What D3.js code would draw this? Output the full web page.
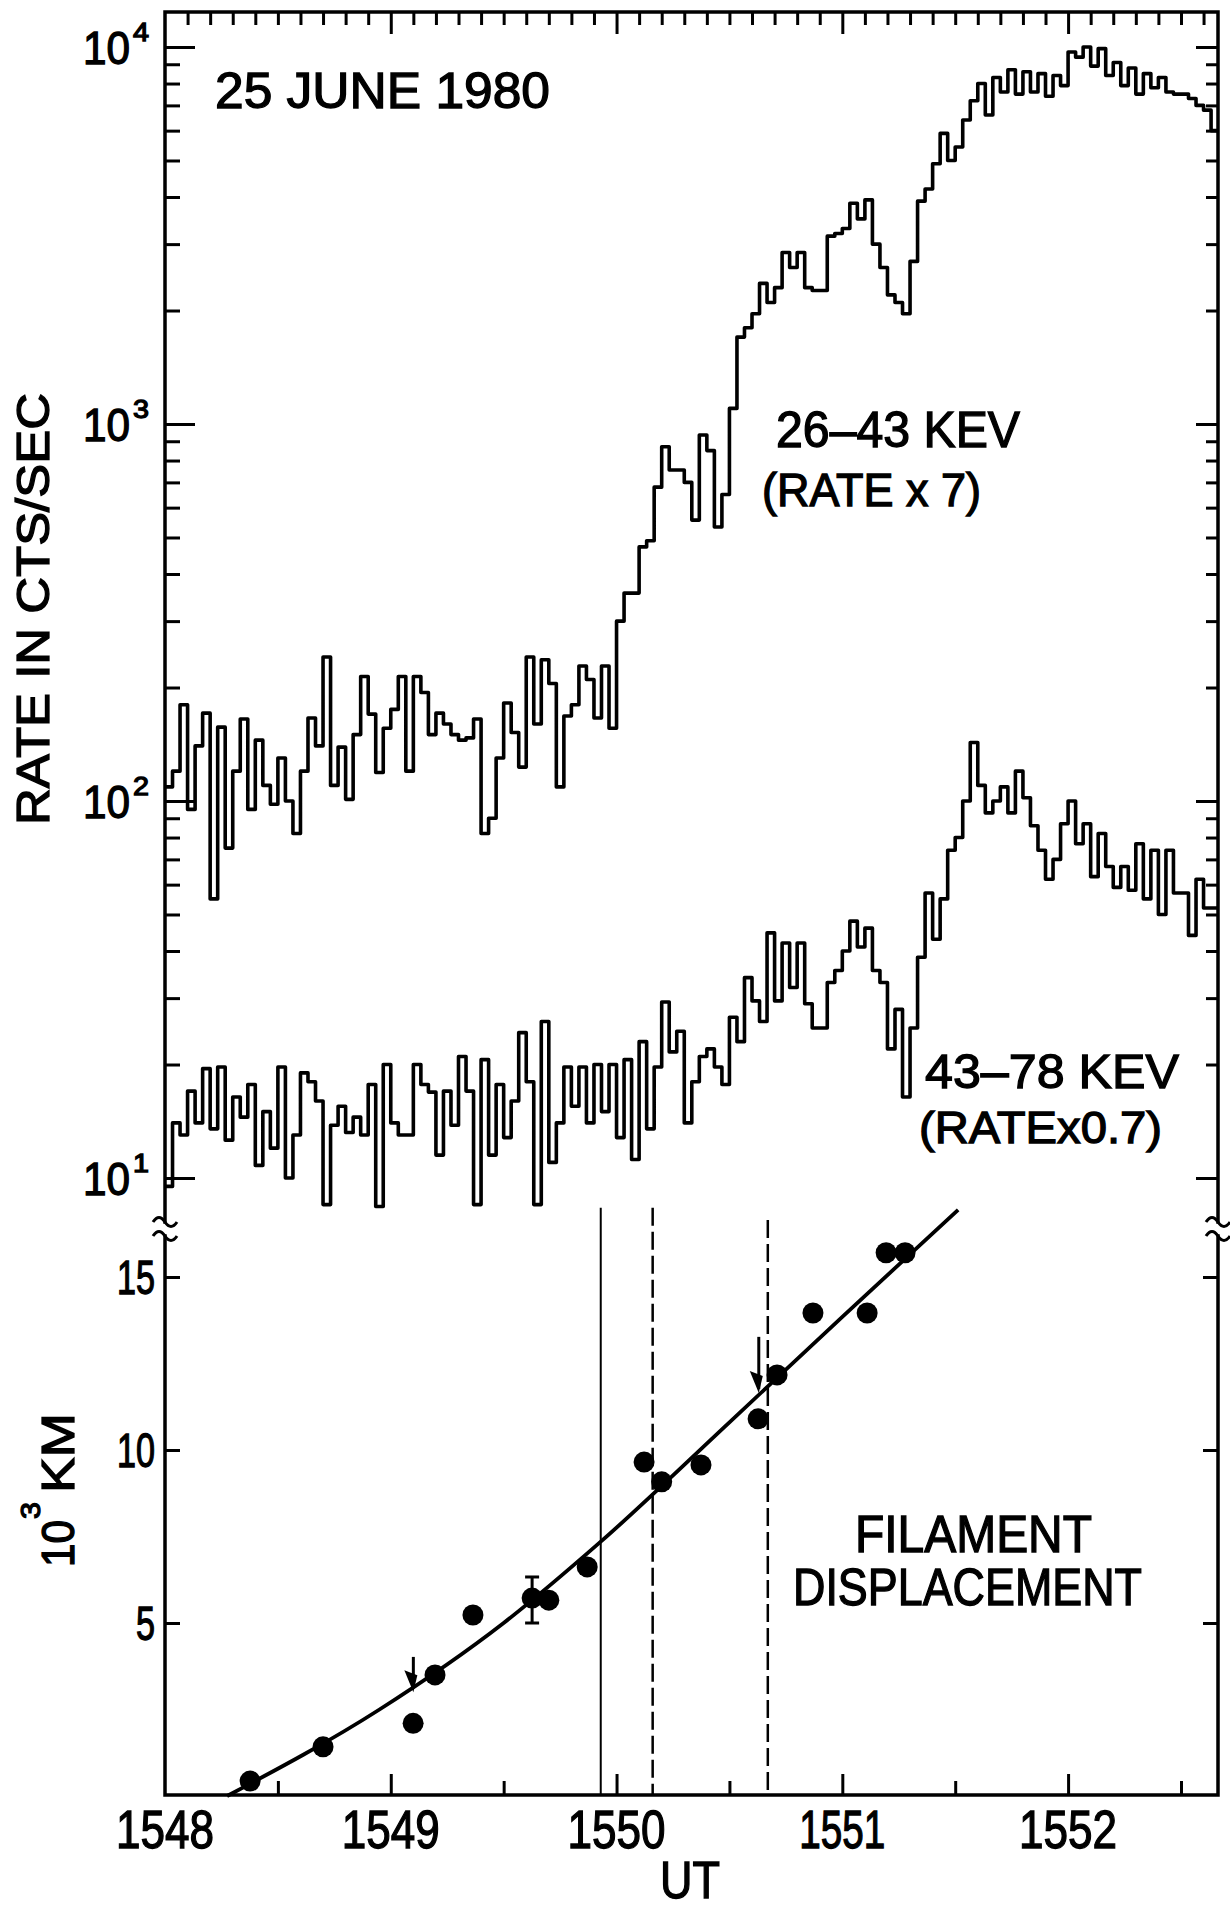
<!DOCTYPE html>
<html>
<head>
<meta charset="utf-8">
<script src="https://cdn.jsdelivr.net/npm/d3@7"></script>
<style>
  html, body { margin: 0; padding: 0; background: #fff; }
  svg { display: block; }
  text { font-family: "Liberation Sans", Arial, sans-serif; fill: #000; }
</style>
</head>
<body>
<svg id="chart" width="1230" height="1908"></svg>
<script>
// ---- data ----
// count-rate bins: start at 15:48 UT, 2 s wide
const binStart = 1548;
const binWidth = 1 / 30;

// 26-43 keV, rate x 7
const rate26to43 = [
  109, 120, 180, 95, 140, 171, 55, 157, 75, 120,
  165, 95, 145, 110, 98, 130, 100, 82, 120, 166,
  140, 241, 110, 139, 101, 150, 214, 170, 119, 156,
  175, 214, 120, 214, 194, 150, 171, 160, 150, 145,
  147, 165, 82, 90, 130, 182, 152, 123, 241, 160,
  237, 205, 109, 168, 180, 228, 210, 166, 228, 156,
  300, 356, 356, 472, 490, 680, 870, 755, 755, 700,
  556, 935, 850, 533, 650, 1100, 1700, 1800, 1960, 2360,
  2100, 2300, 2850, 2600, 2850, 2300, 2260, 2260, 3150, 3200,
  3300, 3850, 3500, 3930, 3000, 2600, 2200, 2100, 1960, 2700,
  3900, 4200, 4900, 5900, 5000, 5430, 6400, 7200, 8000, 6600,
  8300, 7600, 8700, 7500, 8600, 7600, 8500, 7400, 8400, 7900,
  9700, 9400, 10000, 8900, 9900, 8400, 9100, 7900, 8800, 7500,
  8500, 7800, 8300, 7600, 7500, 7500, 7300, 7000, 6800, 6000
];

// 43-78 keV, rate x 0.7
const rate43to78 = [
  9.5, 14, 13, 17, 14, 19.5, 13.5, 19.7, 12.6, 16.4,
  14.5, 17.7, 10.8, 15, 12, 19.7, 10, 13, 19, 18,
  16, 8.5, 13.8, 15.5, 13.2, 14.5, 13, 17.7, 8.4, 20,
  14, 13, 13, 20, 17.7, 16.9, 11.5, 17, 13.8, 21,
  17, 8.5, 20.6, 11.5, 17.7, 12.8, 16, 24.3, 18, 8.5,
  26, 11, 14, 19.7, 15.5, 19.7, 14, 20, 15, 20,
  12.8, 20.6, 11.2, 23, 13.5, 19.7, 29.3, 21.6, 24.5, 14,
  18, 21, 22, 19.7, 17.7, 26.7, 23, 34, 29.5, 26,
  44.7, 29.5, 42, 32, 42, 29, 25, 25, 33, 35.5,
  40, 48, 41, 46, 35.5, 33, 22, 28, 16.4, 25,
  38.5, 57, 43, 55, 74, 80, 100, 143, 110, 93,
  100, 109, 93, 120, 102, 86, 74, 62, 70, 87,
  100, 77, 87, 63, 82, 67, 59, 67, 58, 77,
  55, 74, 50, 74, 57, 57, 44, 62, 52, 52
];

// filament displacement (10^3 km)
const dispTime = [1548.377, 1548.70, 1549.099, 1549.196, 1549.364, 1549.626, 1549.70, 1549.87,
  1550.122, 1550.20, 1550.374, 1550.627, 1550.711, 1550.870, 1551.110, 1551.194, 1551.278];
const dispKm = [0.43, 1.42, 2.1, 3.5, 5.23, 5.72, 5.66, 6.62,
  9.65, 9.08, 9.57, 10.9, 12.17, 13.96, 13.96, 15.7, 15.7];

// smooth fit through the points
const fitTime = [1548.275, 1548.95, 1549.50, 1549.93, 1550.50, 1551.00, 1551.513];
const fitKm = [0, 2.5, 5.0, 7.35, 10.8, 13.85, 16.94];

// error bar
const errTime = [1549.626];
const errLo = [5.0];
const errHi = [6.33];

// arrows
const arrowTime = [1549.10, 1550.63];
const arrowFrom = [4.02, 13.27];
const arrowTo = [3.0, 11.65];

// vertical time markers
const solidTimes = [1549.93];
const solidTop = [17.0];
const dashedTimes = [1550.16, 1550.67];
const dashedTop = [17.0, 16.65];

// axis ticks / labels
const xLabelValues = [1548, 1549, 1550, 1551, 1552];
const xLabels = ['1548', '1549', '1550', '1551', '1552'];
const rateDecades = [10, 100, 1000, 10000];
const rateExponents = ['1', '2', '3', '4'];
const kmTicks = [5, 10, 15];
const kmLabels = ['5', '10', '15'];

// ---- layout ----
const svg = d3.select('#chart');
const frame = { left: 165, right: 1218, top: 12, bottom: 1795, breakTop: 1222, breakBottom: 1236 };

const x = d3.scaleLinear().domain([1548, 1552.664]).range([frame.left, frame.right]);
const yRate = d3.scaleLog().domain([10, 10000]).range([1178, 47]);
const yKm = d3.scaleLinear().domain([0, 15]).range([1796, 1277]);

const INK = 1.3; // text outline, thickens the glyphs like the plotter lettering

svg.append('rect').attr('width', 1230).attr('height', 1908).attr('fill', '#fff');

// ---- ticks ----
function tickAxis(axis, tx, ty, size) {
  svg.append('g')
    .attr('transform', `translate(${tx},${ty})`)
    .call(axis.tickSize(size).tickSizeOuter(0).tickFormat(''))
    .call(g => g.select('.domain').remove())
    .selectAll('line')
    .attr('stroke', '#000')
    .attr('stroke-width', 3);
}

const rateMinors = yRate.ticks().filter(v => !rateDecades.includes(v));
tickAxis(d3.axisRight(yRate).tickValues(rateDecades), frame.left, 0, 30);
tickAxis(d3.axisRight(yRate).tickValues(rateMinors), frame.left, 0, 15);
tickAxis(d3.axisLeft(yRate).tickValues(rateDecades), frame.right, 0, 22);
tickAxis(d3.axisLeft(yRate).tickValues(rateMinors), frame.right, 0, 12);
tickAxis(d3.axisRight(yKm).tickValues(kmTicks), frame.left, 0, 15);
tickAxis(d3.axisLeft(yKm).tickValues(kmTicks), frame.right, 0, 15);

const topTicks = d3.range(1, 47).map(k => 1548 + k / 10);
const topMajor = topTicks.filter(t => Math.abs(t - Math.round(t)) < 1e-6);
const topMinor = topTicks.filter(t => Math.abs(t - Math.round(t)) >= 1e-6);
tickAxis(d3.axisBottom(x).tickValues(topMajor), 0, frame.top, 22);
tickAxis(d3.axisBottom(x).tickValues(topMinor), 0, frame.top, 13);
tickAxis(d3.axisTop(x).tickValues([1549, 1550, 1551, 1552]), 0, frame.bottom, 21);
tickAxis(d3.axisTop(x).tickValues([1548.5, 1549.5, 1550.5, 1551.5, 1552.5]), 0, frame.bottom, 14);

// ---- frame with axis breaks ----
const F = frame;
svg.append('path')
  .attr('d', `M${F.left},${F.bottom} L${F.left},${F.breakBottom} M${F.left},${F.breakTop} L${F.left},${F.top} ` +
    `L${F.right},${F.top} L${F.right},${F.breakTop} M${F.right},${F.breakBottom} L${F.right},${F.bottom} L${F.left},${F.bottom}`)
  .attr('fill', 'none').attr('stroke', '#000').attr('stroke-width', 3.5).attr('stroke-linecap', 'square');

[F.left, F.right].forEach(cx => {
  [F.breakTop, F.breakBottom].forEach(by => {
    svg.append('path')
      .attr('d', `M${cx - 12},${by} c4,-6 8,-6 12,0 s8,6 12,0`)
      .attr('fill', 'none').attr('stroke', '#000').attr('stroke-width', 3);
  });
});

// ---- count-rate histograms ----
function stepPoints(values) {
  const pts = values.map((v, i) => [binStart + i * binWidth, v]);
  pts.push([binStart + values.length * binWidth, values[values.length - 1]]);
  return pts;
}
const rateLine = d3.line()
  .x(d => Math.min(x(d[0]), frame.right))
  .y(d => yRate(d[1]))
  .curve(d3.curveStepAfter);

[rate26to43, rate43to78].forEach(series => {
  svg.append('path')
    .datum(stepPoints(series))
    .attr('d', rateLine)
    .attr('fill', 'none')
    .attr('stroke', '#000')
    .attr('stroke-width', 3.6)
    .attr('stroke-linejoin', 'round');
});

// ---- filament displacement panel ----
solidTimes.forEach((t, i) => {
  svg.append('line')
    .attr('x1', x(t)).attr('x2', x(t))
    .attr('y1', yKm(solidTop[i])).attr('y2', yKm(0))
    .attr('stroke', '#000').attr('stroke-width', 2);
});
dashedTimes.forEach((t, i) => {
  svg.append('line')
    .attr('x1', x(t)).attr('x2', x(t))
    .attr('y1', yKm(dashedTop[i])).attr('y2', yKm(0))
    .attr('stroke', '#000').attr('stroke-width', 2.5)
    .attr('stroke-dasharray', '18,6');
});

const fitLine = d3.line()
  .x(d => x(d[0]))
  .y(d => yKm(d[1]))
  .curve(d3.curveMonotoneX);
svg.append('path')
  .datum(fitTime.map((t, i) => [t, fitKm[i]]))
  .attr('d', fitLine)
  .attr('fill', 'none').attr('stroke', '#000').attr('stroke-width', 3.8);

errTime.forEach((t, i) => {
  const g = svg.append('g').attr('stroke', '#000').attr('stroke-width', 3);
  g.append('line').attr('x1', x(t)).attr('x2', x(t)).attr('y1', yKm(errHi[i])).attr('y2', yKm(errLo[i]));
  g.append('line').attr('x1', x(t) - 7).attr('x2', x(t) + 7).attr('y1', yKm(errHi[i])).attr('y2', yKm(errHi[i]));
  g.append('line').attr('x1', x(t) - 7).attr('x2', x(t) + 7).attr('y1', yKm(errLo[i])).attr('y2', yKm(errLo[i]));
});

svg.append('g')
  .selectAll('circle')
  .data(dispTime.map((t, i) => [t, dispKm[i]]))
  .join('circle')
  .attr('cx', d => x(d[0]))
  .attr('cy', d => yKm(d[1]))
  .attr('r', 10.5)
  .attr('fill', '#000');

arrowTime.forEach((t, i) => {
  const ax = x(t), y0 = yKm(arrowFrom[i]), y1 = yKm(arrowTo[i]);
  svg.append('line').attr('x1', ax).attr('x2', ax).attr('y1', y0).attr('y2', y1 - 4)
    .attr('stroke', '#000').attr('stroke-width', 3);
  svg.append('path')
    .attr('d', `M${ax - 9},${y1 - 22} L${ax + 4},${y1 - 17} L${ax},${y1} Z`)
    .attr('fill', '#000');
});

// ---- text ----
function label(str, px, py, size, len, anchor) {
  return svg.append('text')
    .attr('x', px).attr('y', py)
    .attr('font-size', size)
    .attr('text-anchor', anchor || 'start')
    .attr('textLength', len)
    .attr('lengthAdjust', 'spacingAndGlyphs')
    .attr('stroke', '#000').attr('stroke-width', INK)
    .text(str);
}

label('25 JUNE 1980', 215, 108, 50, 335);
label('26\u201343 KEV', 776, 447, 50, 244);
label('(RATE x 7)', 762, 506, 46, 219);
label('43\u201378 KEV', 925, 1088, 49, 254);
label('(RATEx0.7)', 919, 1143, 45, 243);
label('FILAMENT', 855, 1552, 52, 237);
label('DISPLACEMENT', 793, 1605, 52, 349);
label('UT', 690, 1898, 52, 60, 'middle');

xLabelValues.forEach((v, i) => {
  label(xLabels[i], x(v), 1848, 53, xLabels[i] === '1551' ? 86 : 98, 'middle');
});

rateDecades.forEach((v, i) => {
  const ty = yRate(v);
  label('10', 83, ty + 16.5, 46, 47);
  label(rateExponents[i], 133, ty - 6, 26, 16);
});

kmTicks.forEach((v, i) => {
  label(kmLabels[i], 155, yKm(v) + 17, 48, kmLabels[i].length * 19, 'end');
});

// rotated axis titles
function rotated(group, str, lx, ly, size, len) {
  return group.append('text')
    .attr('x', lx).attr('y', ly)
    .attr('font-size', size).attr('textLength', len).attr('lengthAdjust', 'spacingAndGlyphs')
    .attr('stroke', '#000').attr('stroke-width', INK)
    .text(str);
}

const rateTitle = svg.append('g').attr('transform', 'translate(49,825) rotate(-90)');
rotated(rateTitle, 'RATE IN CTS/SEC', 0, 0, 46, 432);

const kmTitle = svg.append('g').attr('transform', 'translate(74,1567) rotate(-90)');
rotated(kmTitle, '10', 0, 0, 46, 47);
rotated(kmTitle, '3', 48, -34, 28, 17);
rotated(kmTitle, 'KM', 74, 0, 46, 80);
</script>
</body>
</html>
